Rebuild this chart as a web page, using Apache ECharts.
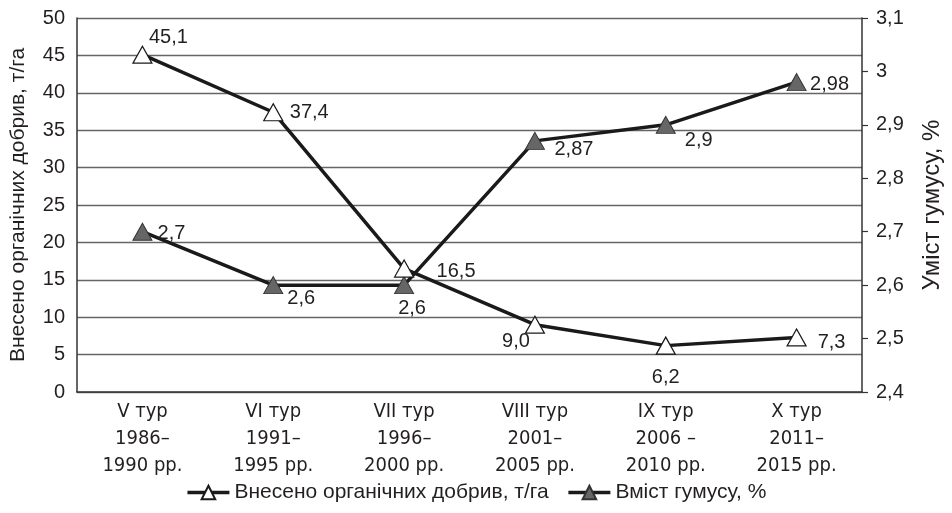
<!DOCTYPE html>
<html>
<head>
<meta charset="utf-8">
<script src="https://cdn.jsdelivr.net/npm/echarts@6/dist/echarts.min.js"></script>
<style>html,body{margin:0;padding:0;background:#fff}#c{width:952px;height:513px}</style>
</head>
<body>
<div id="c"></div>
<script>
const categories = ['V тур\n1986–\n1990 рр.', 'VI тур\n1991–\n1995 рр.', 'VII тур\n1996–\n2000 рр.', 'VIII тур\n2001–\n2005 рр.', 'IX тур\n2006 –\n2010 рр.', 'X тур\n2011–\n2015 рр.'];
const organic = [45.1, 37.4, 16.5, 9.0, 6.2, 7.3];
const humus = [2.7, 2.6, 2.6, 2.87, 2.9, 2.98];
const leftTicks = {min: 0, max: 50, interval: 5};
const rightTicks = {min: 2.4, max: 3.1, interval: 0.1};
const nameOrganic = 'Внесено органічних добрив, т/га';
const nameHumus = 'Вміст гумусу, %';
const rightTitle = 'Уміст гумусу, %';

// label offsets (style only)
const organicOffsets = [[26,-17],[36,0],[52,3],[-19,17],[0,32],[35,5]];
const humusOffsets = [[29,2],[28,13],[8,23],[39,9],[33,16],[33,2]];

const font = "'Liberation Sans', Arial, sans-serif";
const txt = '#231f20';

function mk(vals, offs, fmt) {
  return vals.map((v, i) => ({
    value: v,
    label: {show: true, position: 'inside', offset: offs[i], formatter: () => fmt(v)}
  }));
}

const chart = echarts.init(document.getElementById('c'));
chart.setOption({
  animation: false,
  backgroundColor: '#fff',
  textStyle: {fontFamily: font},
  grid: {left: 74, right: 80, top: 18, bottom: 121, containLabel: false},
  legend: {
    bottom: 5, left: 'center', itemWidth: 42, itemHeight: 17, itemGap: 18,
    textStyle: {fontSize: 21, color: txt, fontFamily: font},
    lineStyle: {width: 3.5, color: '#1a1a1a'},
    data: [nameOrganic, nameHumus]
  },
  xAxis: {
    type: 'category', data: categories, boundaryGap: true,
    axisLine: {lineStyle: {color: '#333', width: 1.5}},
    axisTick: {show: false},
    axisLabel: {fontSize: 20, lineHeight: 27, margin: 6, color: txt, fontFamily: "'DejaVu Sans Condensed', 'Liberation Sans Narrow', 'Liberation Sans', Arial, sans-serif"}
  },
  yAxis: [
    {
      type: 'value', min: leftTicks.min, max: leftTicks.max, interval: leftTicks.interval,
      name: nameOrganic, nameLocation: 'middle', nameGap: 48,
      nameTextStyle: {fontSize: 21, color: txt},
      axisLine: {show: true, lineStyle: {color: '#333', width: 1.5}},
      axisTick: {show: false},
      axisLabel: {fontSize: 20, color: txt, margin: 12},
      splitLine: {lineStyle: {color: '#666', width: 1.3}}
    },
    {
      type: 'value', min: rightTicks.min, max: rightTicks.max, interval: rightTicks.interval,
      name: rightTitle, nameLocation: 'middle', nameGap: 58, nameRotate: 90,
      nameTextStyle: {fontSize: 24, color: txt},
      position: 'right',
      axisLine: {show: true, lineStyle: {color: '#333', width: 1.5}},
      axisTick: {show: true, length: 6, lineStyle: {color: '#333', width: 1.2}},
      axisLabel: {fontSize: 20, color: txt, margin: 14,
        formatter: v => String(+v.toFixed(2)).replace('.', ',')},
      splitLine: {show: false}
    }
  ],
  series: [
    {
      name: nameOrganic, type: 'line', yAxisIndex: 0,
      data: mk(organic, organicOffsets, v => v.toFixed(1).replace('.', ',')),
      symbol: 'triangle', symbolSize: [19, 17],
      lineStyle: {color: '#1a1a1a', width: 3.5},
      itemStyle: {color: '#fff', borderColor: '#1a1a1a', borderWidth: 1.2},
      label: {fontSize: 20, color: txt},
      z: 3
    },
    {
      name: nameHumus, type: 'line', yAxisIndex: 1,
      data: mk(humus, humusOffsets, v => String(v).replace('.', ',')),
      symbol: 'triangle', symbolSize: [19, 17],
      lineStyle: {color: '#1a1a1a', width: 3.5},
      itemStyle: {color: '#666', borderColor: '#333', borderWidth: 1},
      label: {fontSize: 20, color: txt},
      z: 2
    }
  ]
});
</script>
</body>
</html>
